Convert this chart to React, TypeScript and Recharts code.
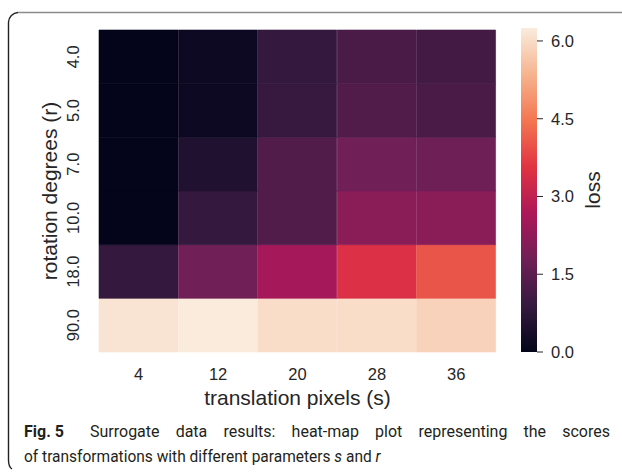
import React from "react";
import { BarChart, Bar, XAxis, YAxis, Cell } from "recharts";

// heat-map axes
const TRANSLATIONS = ["4", "12", "20", "28", "36"];
const ROTATIONS = ["4.0", "5.0", "7.0", "10.0", "18.0", "90.0"];

// loss per rotation row, one value per translation column
const LOSS_R4 = [0.02, 0.2, 0.87, 1.21, 1.09];
const LOSS_R5 = [0.02, 0.2, 0.93, 1.33, 1.21];
const LOSS_R7 = [0.02, 0.54, 1.33, 1.78, 1.76];
const LOSS_R10 = [0.02, 0.87, 1.33, 2.17, 2.17];
const LOSS_R18 = [0.87, 1.78, 2.56, 3.47, 4.02];
const LOSS_R90 = [6.12, 6.25, 6.02, 6.02, 5.85];
const LOSS = [LOSS_R4, LOSS_R5, LOSS_R7, LOSS_R10, LOSS_R18, LOSS_R90];

// colour bar
const VMAX = 6.25;
const COLORBAR_TICKS = [0, 1.5, 3, 4.5, 6];

// seaborn "rocket" anchors
const ROCKET: [number, string][] = [
  [0, "#03051a"],
  [1 / 7, "#35193e"],
  [2 / 7, "#701f57"],
  [3 / 7, "#ad1759"],
  [4 / 7, "#e13342"],
  [5 / 7, "#f37651"],
  [6 / 7, "#f6b48f"],
  [1, "#faebdd"],
];

function hexToRgb(h: string) {
  return [1, 3, 5].map((i) => parseInt(h.slice(i, i + 2), 16));
}

function rocket(t: number) {
  const v = Math.max(0, Math.min(1, t));
  for (let i = 1; i < ROCKET.length; i++) {
    const [p1, c1] = ROCKET[i];
    if (v <= p1) {
      const [p0, c0] = ROCKET[i - 1];
      const f = (v - p0) / (p1 - p0);
      const a = hexToRgb(c0);
      const b = hexToRgb(c1);
      const rgb = a.map((x, k) => Math.round(x + (b[k] - x) * f));
      return `rgb(${rgb.join(",")})`;
    }
  }
  return ROCKET[ROCKET.length - 1][1];
}

const CELL = 1; // every heat-map cell is one unit tall
const FONT = "'Liberation Sans', Arial, sans-serif";
const INK = "#262626";

const table = TRANSLATIONS.map((s) => {
  const row: Record<string, any> = { s };
  ROTATIONS.forEach((_, i) => (row[`r${i}`] = CELL));
  return row;
});

const XTick = (p: any) => (
  <text x={p.x} y={p.y + 28} textAnchor="middle" fontSize={16.5} fontFamily={FONT} fill={INK}>
    {p.payload.value}
  </text>
);

const YTick = (p: any) => {
  const x = p.x - 20;
  const label = ROTATIONS[ROTATIONS.length - 1 - Math.floor(p.payload.value)];
  return (
    <text
      x={x}
      y={p.y}
      transform={`rotate(-90, ${x}, ${p.y})`}
      textAnchor="middle"
      fontSize={16.5}
      fontFamily={FONT}
      fill={INK}
    >
      {label}
    </text>
  );
};

const XTitle = (p: any) => {
  const vb = p.viewBox ?? { x: 99, y: 352, width: 397 };
  return (
    <text x={vb.x + vb.width / 2} y={vb.y + 53} textAnchor="middle" fontSize={21} fontFamily={FONT} fill={INK}>
      translation pixels (s)
    </text>
  );
};

const YTitle = (p: any) => {
  const vb = p.viewBox ?? { x: 0, y: 30, height: 322 };
  const x = 57;
  const y = vb.y + vb.height / 2;
  return (
    <text x={x} y={y} transform={`rotate(-90, ${x}, ${y})`} textAnchor="middle" fontSize={21} fontFamily={FONT} fill={INK}>
      rotation degrees (r)
    </text>
  );
};

const LossTitle = (p: any) => {
  const vb = p.viewBox ?? { x: 37, y: 28, height: 324 };
  const x = vb.x + 63;
  const y = vb.y + vb.height / 2;
  return (
    <text x={x} y={y} transform={`rotate(-90, ${x}, ${y})`} textAnchor="middle" fontSize={21} fontFamily={FONT} fill={INK}>
      loss
    </text>
  );
};

export default function App() {
  // stack bottom-up: last rotation first
  const order = ROTATIONS.map((_, i) => i).reverse();

  return (
    <div style={{ position: "fixed", left: 0, top: 0, width: 622, height: 473, background: "#fff", overflow: "hidden" }}>
      {/* heat-map */}
      <div style={{ position: "absolute", left: 0, top: 0 }}>
        <BarChart
          width={500}
          height={420}
          data={table}
          margin={{ top: 30, right: 4, bottom: 0, left: 0 }}
          barCategoryGap={0}
          barGap={0}
        >
          <XAxis
            dataKey="s"
            type="category"
            height={68}
            tickSize={0}
            tickMargin={0}
            tickLine={false}
            axisLine={false}
            tick={XTick}
            interval={0}
            label={XTitle}
          />
          <YAxis
            type="number"
            domain={[0, 6]}
            ticks={[0.5, 1.5, 2.5, 3.5, 4.5, 5.5]}
            width={99}
            tickSize={0}
            tickMargin={0}
            tickLine={false}
            axisLine={false}
            tick={YTick}
            interval={0}
            label={YTitle}
          />
          {order.map((ri) => (
            <Bar key={ri} dataKey={`r${ri}`} stackId="h" isAnimationActive={false}>
              {LOSS[ri].map((v, ci) => {
                const c = rocket(v / VMAX);
                return <Cell key={ci} fill={c} stroke={c} strokeWidth={0.6} />;
              })}
            </Bar>
          ))}
        </BarChart>
      </div>

      {/* colour bar */}
      <div style={{ position: "absolute", left: 500, top: 0 }}>
        <BarChart
          width={122}
          height={473}
          data={[{ v: VMAX }]}
          margin={{ top: 28, right: 0, bottom: 121, left: 21 }}
          barCategoryGap={0}
        >
          <defs>
            <linearGradient id="rocketGrad" x1="0" y1="1" x2="0" y2="0">
              {ROCKET.map(([p, c]) => (
                <stop key={p} offset={p} stopColor={c} />
              ))}
            </linearGradient>
          </defs>
          <XAxis hide />
          <YAxis
            orientation="right"
            type="number"
            domain={[0, VMAX]}
            ticks={COLORBAR_TICKS}
            tickFormatter={(v: number) => v.toFixed(1)}
            width={85}
            tickSize={6}
            tickMargin={8}
            axisLine={false}
            tickLine={{ stroke: INK }}
            tick={{ fontSize: 16.5, fontFamily: FONT, fill: INK }}
            interval={0}
            label={LossTitle}
          />
          <Bar dataKey="v" fill="url(#rocketGrad)" isAnimationActive={false} />
        </BarChart>
      </div>

      {/* frame + caption */}
      <svg width={622} height={473} style={{ position: "absolute", left: 0, top: 0, pointerEvents: "none" }}>
        <path d="M 622 12.5 H 18" stroke="#8a8a8a" strokeWidth={1.4} fill="none" />
        <path d="M 18 12.5 A 10 10 0 0 0 8.5 22 V 460 Q 8.5 467 12 469" stroke="#222" strokeWidth={1.4} fill="none" />
        <g fontFamily="Roboto, 'Open Sans', sans-serif" fontSize={16.5} fill="#231f20">
          <g transform="translate(24, 437) scale(0.97, 1)">
            <text x={0} y={0} fontWeight={700}>
              Fig. 5
            </text>
          </g>
          {/* justified first line */}
          <g transform="translate(90, 437) scale(0.97, 1)">
            <text x={0} y={0} wordSpacing={12.5}>
              Surrogate data results: heat-map plot representing the scores
            </text>
          </g>
          <g transform="translate(24, 462) scale(0.94, 1)">
            <text x={0} y={0}>
              of transformations with different parameters <tspan fontStyle="italic">s</tspan> and{" "}
              <tspan fontStyle="italic">r</tspan>
            </text>
          </g>
        </g>
      </svg>
    </div>
  );
}
